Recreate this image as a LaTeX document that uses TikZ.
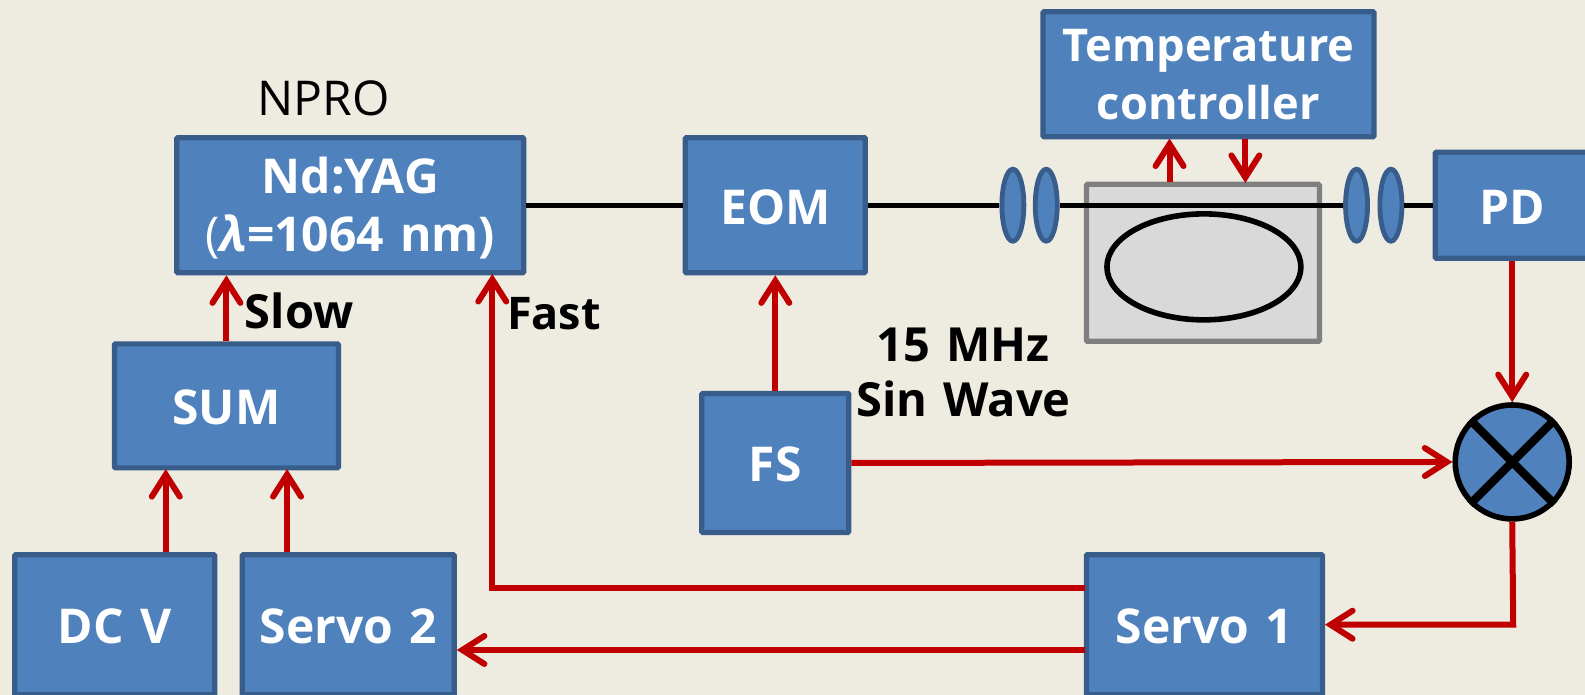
\documentclass[tikz,border=0pt]{standalone}
\usepackage{amsmath,amssymb}
\usepackage{fontspec}
\setmainfont{Open Sans}[WordSpace=1.3]
\usepackage{tikz}
\usetikzlibrary{positioning,arrows.meta,shapes.geometric}
\usepackage{xcolor}
\definecolor{slide}{HTML}{EEECE1}
\definecolor{boxfill}{HTML}{4F81BD}
\definecolor{boxedge}{HTML}{385D8A}
\definecolor{sigred}{HTML}{C00000}
\definecolor{cavfill}{HTML}{D9D9D9}
\definecolor{cavedge}{HTML}{7F7F7F}
\tikzset{
  block/.style={draw=boxedge,fill=boxfill,line width=2.6pt,rounded corners=0.5pt,text=white,
    font=\fontsize{24}{29}\selectfont\bfseries,align=center,inner sep=0pt},
  oneline/.style={block,text height=19pt,text depth=0pt},
  lens/.style={draw=boxedge,fill=boxfill,line width=2.4pt,ellipse,minimum width=11pt,inner sep=0pt},
  sig/.style={draw=sigred,line width=3pt,-{Straight Barb[length=11pt,width=14pt,line cap=round,line width=3pt]}},
  beam/.style={draw=black,line width=2.6pt},
  tag/.style={font=\fontsize{23.5}{27.5}\selectfont\bfseries,text=black,align=center,inner sep=0pt},
}
\begin{document}
\begin{tikzpicture}[x=0.50548pt,y=-0.50548pt]
\useasboundingbox[fill=slide] (0,0) rectangle (1568,687.5);
% cavity first, the beam runs over it
\node[draw=cavedge,fill=cavfill,line width=2.6pt,rounded corners=0.5pt,minimum width=116.5pt,minimum height=78.5pt,inner sep=0pt] (cavity) at (1190,260) {};
\node[draw=black,fill=cavfill,line width=2.8pt,ellipse,minimum width=97pt,minimum height=53pt,inner sep=0pt] (etalon) at (1191,264) {};
% blocks
\node[block,minimum width=173.5pt,minimum height=67.5pt,text height=46pt,text depth=0pt] (yag) at (346.5,203) {Nd:YAG\\\textmd{(}\textit{λ}=1064 nm)};
\node[oneline,minimum width=90pt,minimum height=67.5pt] (eom) at (767,203) {EOM};
\node[block,font=\fontsize{22.6}{29}\selectfont\bfseries,minimum width=165.5pt,minimum height=62.5pt] (temp) at (1195.5,73.5) {Temperature\\controller};
\node[oneline,minimum width=77pt,minimum height=53pt] (pd) at (1496,203) {PD};
\node[oneline,minimum width=112pt,minimum height=62pt] (sum) at (224,401.5) {SUM};
\node[oneline,minimum width=73.5pt,minimum height=69.5pt] (fs) at (767,458) {FS};
\node[oneline,minimum width=100pt,minimum height=70pt] (dcv) at (113.5,618) {DC V};
\node[oneline,minimum width=106pt,minimum height=70pt] (servotwo) at (344.5,618) {Servo 2};
\node[oneline,minimum width=118pt,minimum height=70pt] (servoone) at (1191.5,618) {Servo 1};
\node[draw=black,fill=boxfill,line width=2.8pt,circle,minimum size=57pt,inner sep=0pt] (mixer) at (1496,457) {};
\draw[draw=black,line width=4.2pt] (mixer.45) -- (mixer.225);
\draw[draw=black,line width=4.2pt] (mixer.135) -- (mixer.315);
% lenses
\node[lens,minimum height=36pt] (lensa) at (1002,203) {};
\node[lens,minimum height=36pt] (lensb) at (1035,203) {};
\node[lens,minimum height=36pt] (lensc) at (1342,203) {};
\node[lens,minimum height=36pt] (lensd) at (1376,203) {};
% beam
\draw[beam] (yag.east) -- (eom.west);
\draw[beam] (eom.east) -- (lensa.west);
\draw[beam] (lensb.east) -- (lensc.west);
\draw[beam] (lensd.east) -- (pd.west);
% labels
\node[font=\fontsize{24}{27}\selectfont,inner sep=0pt] (npro) at (320,97) {NPRO};
\node[tag] (slow) at (296,308) {Slow};
\node[tag,font=\fontsize{22.5}{27}\selectfont\bfseries] (fast) at (548,310) {Fast};
\node[tag] (sine) at (953,368) {15 MHz\\Sin Wave};
% signals
\coordinate (sumA) at (164,464);
\coordinate (sumB) at (284,464);
\coordinate (tempA) at (1157,137);
\coordinate (tempB) at (1232,181);
\coordinate (fastin) at (487,271);
\coordinate (fastout) at (1073,582);
\coordinate (servoA) at (1073,643);
\coordinate (mixout) at (1497,618);
\draw[sig] (sum.north) -- (sum.north |- yag.south);
\draw[sig] (sumA |- dcv.north) -- (sumA);
\draw[sig] (sumB |- servotwo.north) -- (sumB);
\draw[sig] (fastout) -| (fastin);
\draw[sig] (servoA) -- (servoA -| servotwo.east);
\draw[sig] (fs.north) -- (eom.south);
\draw[sig] (fs.east) -- (mixer.west);
\draw[sig] (pd.south) -- (mixer.north);
\draw[sig] (mixer.south) -- (mixout) -- (servoone.east);
\draw[sig] (tempA |- cavity.north) -- (tempA);
\draw[sig] (tempB |- temp.south) -- (tempB);
\end{tikzpicture}
\end{document}
